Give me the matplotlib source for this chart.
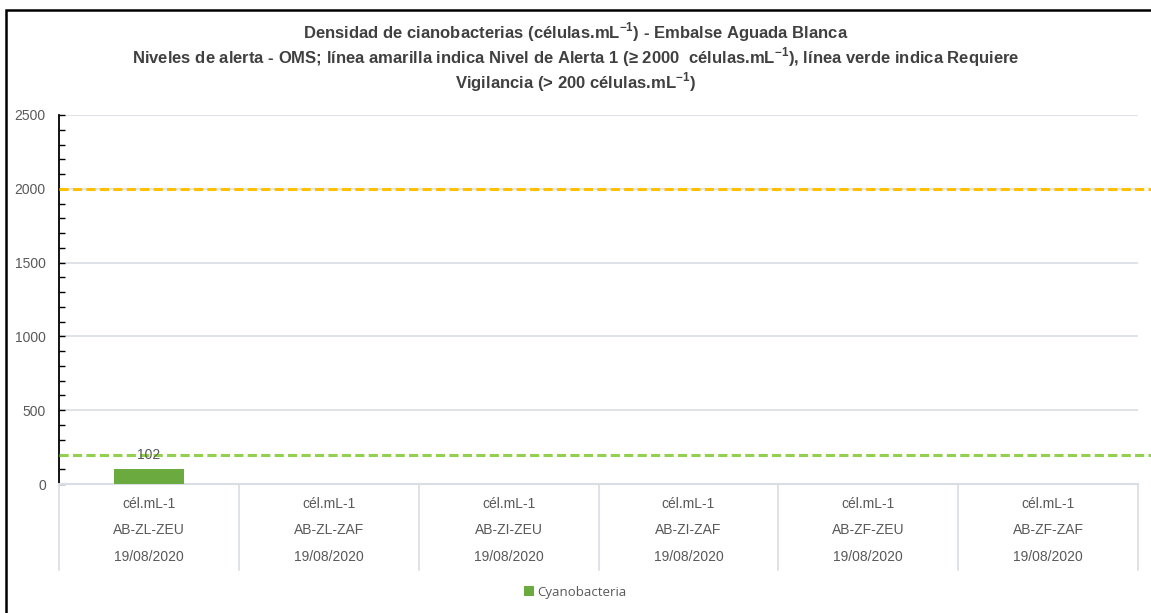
import matplotlib
matplotlib.use('Agg')
import matplotlib.pyplot as plt
import matplotlib.transforms as mtransforms
from matplotlib.patches import Rectangle

# datos
unidades = ['cél.mL-1'] * 6
estaciones = ['AB-ZL-ZEU', 'AB-ZL-ZAF', 'AB-ZI-ZEU', 'AB-ZI-ZAF', 'AB-ZF-ZEU', 'AB-ZF-ZAF']
fechas = ['19/08/2020'] * 6
cyano = [102, 0, 0, 0, 0, 0]
etiquetas = ['102', '', '', '', '', '']
alertas = [2000, 200]
colores_alerta = ['#FFC000', '#92D050']

narrow = ['Liberation Sans Narrow', 'Liberation Sans', 'DejaVu Sans']
plt.rcParams['font.family'] = narrow
plt.rcParams['mathtext.fontset'] = 'custom'
plt.rcParams['mathtext.rm'] = 'Liberation Sans'
plt.rcParams['mathtext.bf'] = 'Liberation Sans:bold'

gris = '#595959'
fig = plt.figure(figsize=(11.51, 6.13), dpi=100)
ax = fig.add_axes([0.0513, 0.2104, 0.9374, 0.602])

x = list(range(len(estaciones)))
barras = ax.bar(x, cyano, width=0.39, color='#6AAA3E', label='Cyanobacteria', zorder=3)
for b, t in zip(barras, etiquetas):
    if t:
        ax.text(b.get_x() + b.get_width() / 2, b.get_height() + 45, t,
                ha='center', va='bottom', fontsize=10, color=gris, zorder=5)

# lineas de alerta (sobrepasan el area del grafico)
trans = mtransforms.blended_transform_factory(ax.transAxes, ax.transData)
for v, c in zip(alertas, colores_alerta):
    ax.plot([0, 1.02], [v, v], transform=trans, color=c, lw=2.2,
            linestyle=(0, (3.0, 1.4)), clip_on=False, zorder=4)

ax.set_xlim(-0.5, len(x) - 0.5)
ax.set_ylim(0, 2500)
ax.set_yticks(range(0, 2501, 500))
ax.set_yticks(range(0, 2501, 100), minor=True)
ax.tick_params(axis='y', which='both', direction='in', length=4, width=1,
               colors='black', labelcolor=gris, labelsize=10, pad=9.5)
ax.grid(axis='y', which='major', color='#D9DEE4', lw=1.2, zorder=0)

ax.set_xticks(x)
ax.set_xticklabels([f'{u}\n{e}\n{f}' for u, e, f in zip(unidades, estaciones, fechas)],
                   linespacing=2.15, fontsize=10, color=gris)
ax.tick_params(axis='x', length=0, pad=9)

for s in ['top', 'right']:
    ax.spines[s].set_visible(False)
ax.spines['left'].set_color('black')
ax.spines['left'].set_linewidth(1.3)
ax.spines['bottom'].set_color('#D9DEE4')
ax.spines['bottom'].set_linewidth(1.5)

# separadores de categorias
tsep = mtransforms.blended_transform_factory(ax.transData, ax.transAxes)
for i in range(len(x) + 1):
    ax.plot([i - 0.5, i - 0.5], [0, -0.233], transform=tsep, color='#D9DEE4',
            lw=1.2, clip_on=False)

sup = '$^{\\mathbf{-1}}$'
lineas = ['Densidad de cianobacterias (células.mL' + sup + ') - Embalse Aguada Blanca',
          'Niveles de alerta - OMS; línea amarilla indica Nivel de Alerta 1 (≥ 2000  células.mL' + sup
          + '), línea verde indica Requiere',
          'Vigilancia (> 200 células.mL' + sup + ')']
for k, l in enumerate(lineas):
    fig.text(0.5, 0.947 - k * 25 / 613, l, ha='center', va='center', fontsize=12,
             fontweight='bold', color='#404040')

leg = fig.legend(handles=[barras], labels=['Cyanobacteria'], loc='center',
                 bbox_to_anchor=(0.5, 0.034), frameon=False, handlelength=0.7,
                 handleheight=0.7, handletextpad=0.3,
                 prop={'family': ['Open Sans', 'DejaVu Sans'], 'size': 9.5})
for t in leg.get_texts():
    t.set_color(gris)

# marco exterior
fig.patches.append(Rectangle((6 / 1151, -0.1), 1.2, 1.1 - 10 / 613,
                             transform=fig.transFigure, fill=False,
                             edgecolor='black', lw=1.8))

fig.savefig('out.png', dpi=100)
